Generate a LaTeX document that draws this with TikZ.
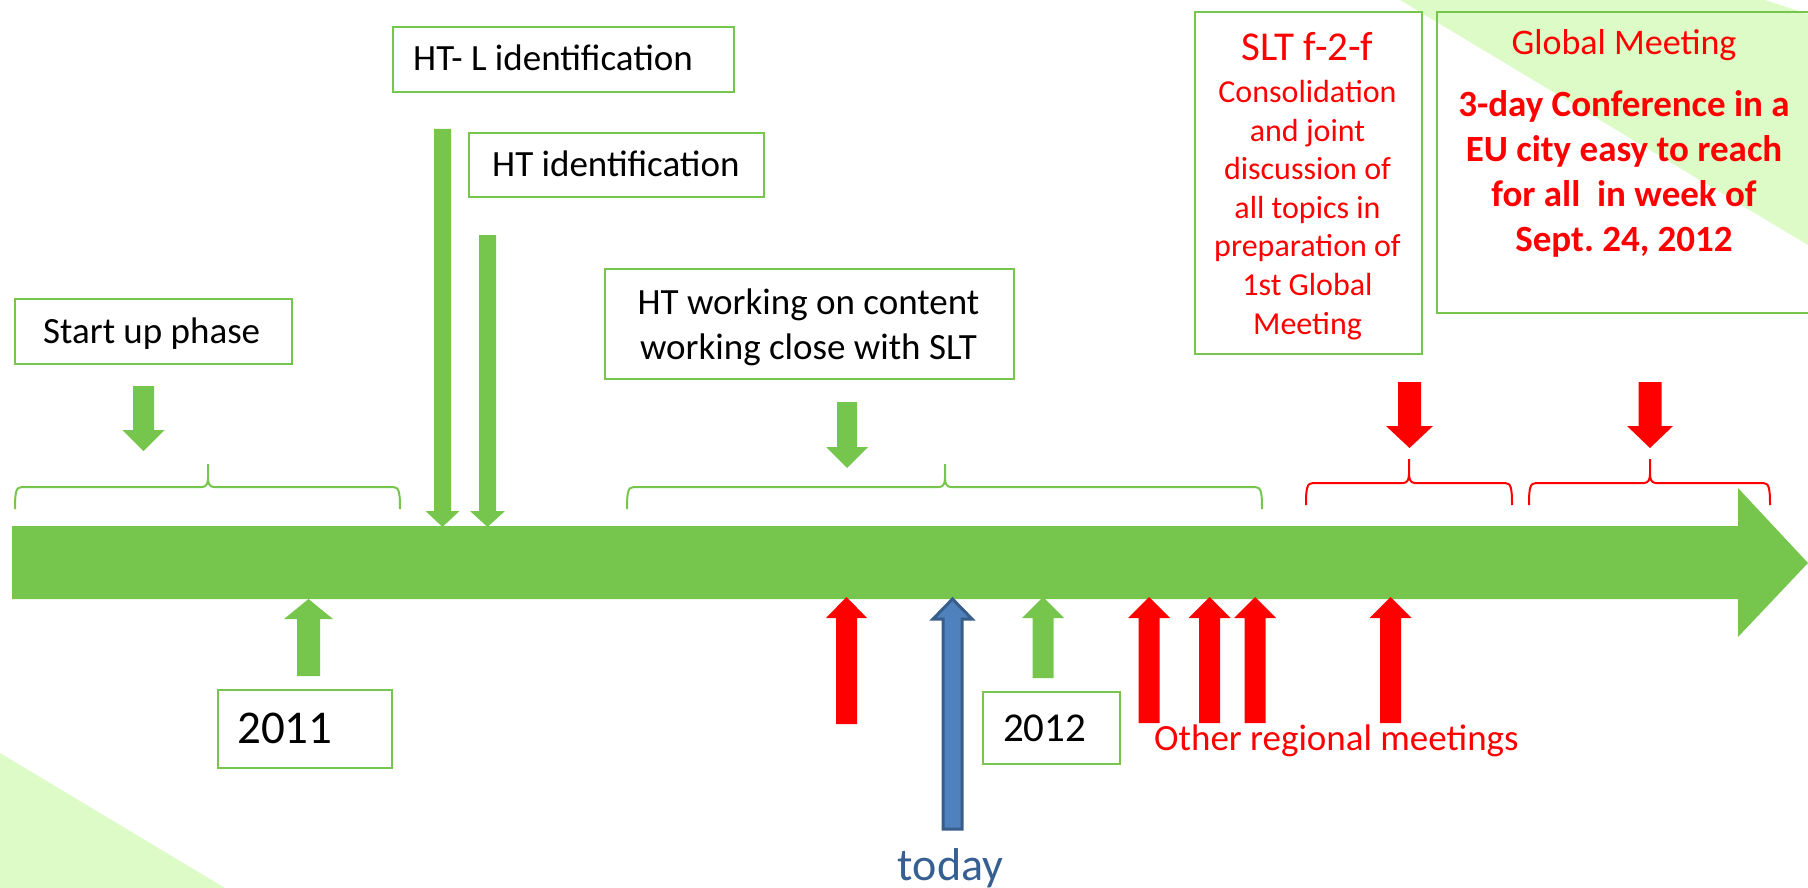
\documentclass[tikz,border=0pt]{standalone}
\usepackage{fontspec}
\setmainfont{Carlito}
\frenchspacing
\definecolor{tlgreen}{RGB}{118,198,78}
\definecolor{bglgreen}{RGB}{221,251,199}
\definecolor{tlred}{RGB}{255,0,0}
\definecolor{todayfill}{RGB}{79,129,189}
\definecolor{todayline}{RGB}{56,93,138}
\definecolor{todaytext}{RGB}{55,96,146}
% block arrow: #1 style, #2 centre x, #3 tip y, #4 head base y, #5 tail y, #6 shaft half width, #7 head half width
\newcommand{\tlblockarrow}[7]{\path[#1] (#2-#6,#5) -- (#2-#6,#4) -- (#2-#7,#4) -- (#2,#3) -- (#2+#7,#4) -- (#2+#6,#4) -- (#2+#6,#5) -- cycle;}
% brace: #1 colour, #2 left x, #3 middle x, #4 right x, #5 end y, #6 line y, #7 tip y
\newcommand{\tlbrace}[7]{%
  \draw[#1, line width=2pt] (#2,#5) .. controls (#2,#6+5) and (#2+1,#6) .. (#2+7,#6) -- (#3-6,#6) .. controls (#3-2,#6) and (#3,#6-3) .. (#3,#6-9) -- (#3,#7);
  \draw[#1, line width=2pt] (#4,#5) .. controls (#4,#6+5) and (#4-1,#6) .. (#4-7,#6) -- (#3+6,#6) .. controls (#3+2,#6) and (#3,#6-3) .. (#3,#6-9);}
\begin{document}
\begin{tikzpicture}[x=1pt,y=-1pt,
  box/.style={draw=tlgreen, line width=1.6pt, inner sep=0pt, anchor=north west},
  lbl/.style={inner sep=0pt, font=\fontsize{37}{45}\selectfont}]
\useasboundingbox (0,0) rectangle (1808,888);
% faint background shapes
\fill[bglgreen] (1400,0) -- (1765,0) -- (1808,14) -- (1808,245) -- cycle;
\fill[bglgreen] (0,753) -- (225,888) -- (0,888) -- cycle;
% main timeline arrow
\fill[tlgreen] (12,526) -- (1738,526) -- (1738,488) -- (1808,563) -- (1738,637) -- (1738,599) -- (12,599) -- cycle;
% braces
\tlbrace{tlgreen}{15}{208}{400}{509}{487}{464}
\tlbrace{tlgreen}{627}{945}{1262}{509}{487}{464}
\tlbrace{tlred}{1306}{1409}{1512}{505}{483}{459}
\tlbrace{tlred}{1529}{1650}{1770}{505}{483}{459}
% down arrows
\tlblockarrow{fill=tlgreen}{143.5}{451}{430}{386}{10.5}{21}
\tlblockarrow{fill=tlgreen}{442.5}{527}{511}{129}{8.5}{17}
\tlblockarrow{fill=tlgreen}{487.5}{527}{511}{235}{8.5}{17.5}
\tlblockarrow{fill=tlgreen}{847}{468}{447}{402}{10}{21}
\tlblockarrow{fill=tlred}{1409.5}{448}{426}{382}{11.5}{23.5}
\tlblockarrow{fill=tlred}{1650}{448}{426}{382}{11.5}{23}
% up arrows
\tlblockarrow{fill=tlgreen}{308.5}{599}{619}{676}{11.5}{24.5}
\tlblockarrow{fill=tlgreen}{1043}{597}{618}{678}{10.5}{21}
\tlblockarrow{fill=tlred}{846.5}{597}{618}{724}{10.5}{20.5}
\tlblockarrow{fill=todayfill, draw=todayline, line width=3pt}{952.5}{599}{619}{829}{9.5}{19.5}
\tlblockarrow{fill=tlred}{1149}{597}{618}{723}{10.5}{21}
\tlblockarrow{fill=tlred}{1209.5}{597}{618}{723}{10.5}{21}
\tlblockarrow{fill=tlred}{1255}{597}{618}{723}{10.5}{21}
\tlblockarrow{fill=tlred}{1390.5}{597}{618}{723}{10.5}{21}
% boxes
\node[box, minimum width=277, minimum height=65] (startbox) at (14,298) {};
\node[box, minimum width=341, minimum height=65] (htlbox) at (392,26) {};
\node[box, minimum width=295, minimum height=64] (htbox) at (468,132) {};
\node[box, minimum width=409, minimum height=110] (htwbox) at (604,268) {};
\node[box, minimum width=227, minimum height=342] (sltbox) at (1194,11) {};
\node[box, minimum width=376, minimum height=301] (globbox) at (1436,11) {};
\node[box, minimum width=174, minimum height=78] (yearAbox) at (217,689) {};
\node[box, minimum width=137, minimum height=72] (yearBbox) at (982,691) {};
% texts
\node[lbl, anchor=base west] (starttxt) at (43,343) {Start up phase};
\node[lbl, anchor=base west] (htltxt) at (413,71) {HT- L identification};
\node[lbl, anchor=base west] (httxt) at (492,177) {HT identification};
\node[lbl, align=center] (htwtxt) at (808.5,327) {HT working on content\\working close with SLT};
\node[lbl, text=tlred, font=\fontsize{41}{49}\selectfont, anchor=base] (slttitle) at (1307.5,61) {SLT f-2-f};
\node[lbl, text=tlred, align=center, font=\fontsize{32}{38.6}\selectfont] (sltbody) at (1307.5,210) {Consolidation\\and joint\\discussion of\\all topics in\\preparation of\\1st Global\\Meeting};
\node[lbl, text=tlred, font=\fontsize{36}{44}\selectfont, anchor=base] (globtitle) at (1624,55) {Global Meeting};
\node[lbl, text=tlred, align=center, font=\bfseries\fontsize{37}{44.8}\selectfont] (globbody) at (1624,174) {3-day Conference in a\\EU city easy to reach\\for all~ in week of\\Sept. 24, 2012};
\node[lbl, text=tlred, anchor=base west] (othertxt) at (1154,750) {Other regional meetings};
\node[lbl, text=todaytext, font=\fontsize{46}{55}\selectfont, anchor=base] (todaytxt) at (950.5,880) {today};
\node[lbl, font=\fontsize{47}{56}\selectfont, anchor=base west] (yearAtxt) at (237,743) {2011};
\node[lbl, font=\fontsize{41}{49}\selectfont, anchor=base west] (yearBtxt) at (1003,741) {2012};
\end{tikzpicture}
\end{document}
